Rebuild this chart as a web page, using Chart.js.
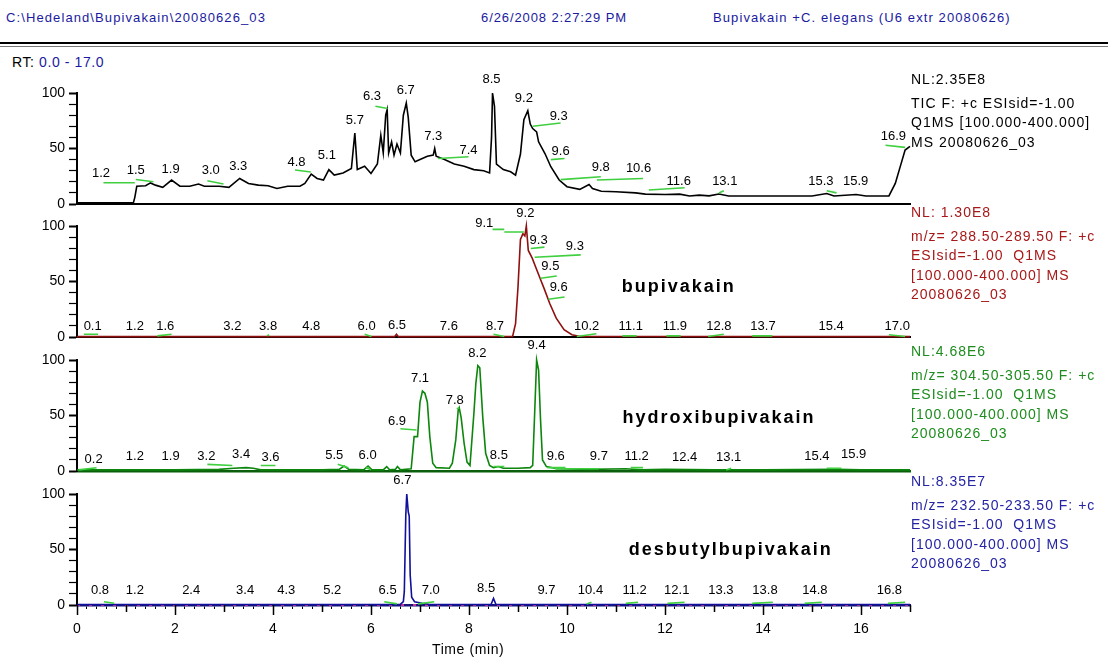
<!DOCTYPE html>
<html>
<head>
<meta charset="utf-8">
<script src="https://cdn.jsdelivr.net/npm/chart.js@4.4.1/dist/chart.umd.min.js"></script>
<style>
	body { margin: 0; background: #fff; }
	#page { position: relative; width: 1108px; height: 657px; overflow: hidden; font-family: "Liberation Sans", Arial, sans-serif; }
	canvas { position: absolute; left: 0; top: 0; }
	.t { position: absolute; white-space: pre; font-size: 14px; letter-spacing: 0.6px; }
	.hdr { position: absolute; white-space: pre; font-size: 13px; color: #1a1aa0; top: 10px; letter-spacing: 1.1px; }
	.note { position: absolute; left: 911px; white-space: pre; font-size: 14px; line-height: 19.5px; letter-spacing: 1px; }
	.note .nl { display: block; margin-bottom: 4px; }
	#rule1 { position: absolute; left: 0; top: 42px; width: 1108px; height: 2px; background: #000; }
	#rule2 { position: absolute; left: 0; top: 46px; width: 1108px; height: 1px; background: #777; }
</style>
</head>
<body>
<div id="page">
	<div class="hdr" style="left:6px;">C:\Hedeland\Bupivakain\20080626_03</div>
	<div class="hdr" style="left:481px; letter-spacing:0.9px;">6/26/2008 2:27:29 PM</div>
	<div class="hdr" style="left:713px;">Bupivakain +C. elegans (U6 extr 20080626)</div>
	<div id="rule1"></div>
	<div id="rule2"></div>
	<div class="t" style="left:12px; top:54px;">RT: <span style="color:#1a1aa0;">0.0 - 17.0</span></div>

	<canvas id="p1" width="1108" height="657"></canvas>
	<canvas id="p2" width="1108" height="657"></canvas>
	<canvas id="p3" width="1108" height="657"></canvas>
	<canvas id="p4" width="1108" height="657"></canvas>

	<div class="note" style="top:70px; color:#000;"><span class="nl">NL:2.35E8</span>TIC F: +c ESIsid=-1.00
Q1MS [100.000-400.000]
MS 20080626_03</div>
	<div class="note" style="top:203px; color:#a81818;"><span class="nl">NL: 1.30E8</span>m/z= 288.50-289.50 F: +c
ESIsid=-1.00  Q1MS
[100.000-400.000] MS
20080626_03</div>
	<div class="note" style="top:342px; color:#1e8c1e;"><span class="nl">NL:4.68E6</span>m/z= 304.50-305.50 F: +c
ESIsid=-1.00  Q1MS
[100.000-400.000] MS
20080626_03</div>
	<div class="note" style="top:472px; color:#2424a4;"><span class="nl">NL:8.35E7</span>m/z= 232.50-233.50 F: +c
ESIsid=-1.00  Q1MS
[100.000-400.000] MS
20080626_03</div>

	<div class="t" style="left:432px; top:641px;">Time (min)</div>
</div>
<script>
const FONT = '"Liberation Sans", Arial, sans-serif';

// TIC trace
const ticTimes = [
	0, 0.5, 1.0, 1.15, 1.18, 1.22, 1.4, 1.5, 1.6, 1.75,
	1.93, 2.1, 2.3, 2.48, 2.6, 2.9, 3.1, 3.32, 3.5, 3.7,
	3.9, 4.08, 4.3, 4.55, 4.65, 4.78, 4.9, 5.03, 5.14, 5.25,
	5.43, 5.6, 5.67, 5.72, 5.87, 6.0, 6.13, 6.2, 6.25, 6.3,
	6.33, 6.36, 6.42, 6.47, 6.53, 6.6, 6.66, 6.72, 6.76, 6.82,
	6.9, 7.0, 7.15, 7.27, 7.3, 7.33, 7.5, 7.7, 7.9, 8.1,
	8.3, 8.42, 8.46, 8.48, 8.52, 8.56, 8.7, 8.85, 8.95, 9.05,
	9.12, 9.2, 9.25, 9.3, 9.38, 9.42, 9.55, 9.67, 9.84, 10.0,
	10.26, 10.45, 10.52, 10.7, 11.0, 11.4, 11.6, 12.0, 12.3, 12.5,
	12.7, 12.9, 13.1, 13.3, 14.0, 15.0, 15.3, 15.45, 15.9, 16.1,
	16.57, 16.7, 16.82, 16.9, 17.0
];
const ticValues = [
	1, 1, 1, 1, 6, 16, 16.5, 19, 17, 15,
	21.5, 16, 16, 18, 16, 16, 15, 23, 18.5, 17,
	16.5, 14, 16, 16, 18.5, 27, 23, 21.5, 31, 26,
	28, 32, 64, 31, 34, 27.5, 36, 62, 46, 80,
	85, 46, 56, 44, 54, 46, 80, 91, 78, 44,
	38, 40, 43, 44, 50, 43, 40, 36, 34, 31,
	30, 28, 60, 100, 88, 36, 31, 29, 26, 45,
	76, 84, 72, 68, 65, 56, 45.5, 33.6, 21.6, 15.6,
	13.2, 17.5, 14, 11.5, 11, 10, 8.9, 8.5, 8.9, 7.2,
	8, 7.3, 9, 7.2, 7.2, 7.2, 9.5, 7.2, 8.5, 7.2,
	7.3, 18.6, 36.6, 48.6, 52
];

// bupivakain trace
const bupTimes = [0, 6.48, 6.52, 6.56, 8.89, 8.95, 9.0, 9.05, 9.1, 9.14, 9.17, 9.21, 9.29, 9.37, 9.45, 9.53, 9.65, 9.78, 9.94, 10.1, 10.27, 17];
const bupValues = [0.3, 0.3, 2.5, 0.3, 0.5, 12, 45, 88, 93, 91, 100, 78, 71, 62, 53, 44, 30, 17, 6.5, 2, 0.5, 0.3];

// hydroxibupivakain trace
const hydTimes = [
	0, 1.0, 2.0, 2.9, 3.2, 3.45, 3.6, 3.75, 4.2, 5.0,
	5.35, 5.45, 5.55, 5.85, 5.94, 6.02, 6.25, 6.32, 6.38, 6.5,
	6.54, 6.6, 6.82, 6.88, 6.95, 7.0, 7.05, 7.1, 7.15, 7.2,
	7.26, 7.33, 7.6, 7.66, 7.73, 7.78, 7.8, 7.84, 7.9, 7.96,
	8.02, 8.1, 8.14, 8.18, 8.22, 8.28, 8.34, 8.42, 8.5, 8.6,
	8.7, 9.0, 9.25, 9.3, 9.34, 9.38, 9.42, 9.46, 9.5, 9.58,
	9.8, 10.5, 11.2, 11.5, 12.0, 13.0, 14.0, 15.5, 16.0, 17.0
];
const hydValues = [
	1, 1, 1, 1.5, 2.5, 3, 2.5, 1, 1, 1,
	1.5, 4.5, 1.5, 1, 4.5, 1, 1, 4, 1, 1.5,
	4, 1, 2, 31, 31, 62, 72, 70, 62, 31,
	7, 3, 2.5, 7, 28, 55, 57, 48, 25, 8,
	5, 52, 79, 95, 93, 49, 16, 5, 3, 4,
	2.5, 2.5, 3, 5, 52, 100, 91, 46, 10, 4,
	2, 1.5, 2, 1, 1.5, 1, 1, 1.5, 1, 1
];

// desbutylbupivakain trace
const desTimes = [0, 6.6, 6.66, 6.68, 6.71, 6.73, 6.76, 6.78, 6.8, 6.83, 6.89, 7.04, 7.2, 8.45, 8.5, 8.55, 17];
const desValues = [0.5, 0.5, 3, 12, 81, 100, 84, 80, 27, 7, 3, 1.5, 0.5, 0.5, 6, 0.5, 0.5];

// integration baselines [t1, v1, t2, v2]
const ticSegments = [
	[0.54, 19.2, 1.18, 19.2], [1.2, 22, 1.56, 20], [2.66, 21, 2.99, 18], [4.45, 30.7, 4.77, 28.9],
	[6.09, 88, 6.34, 86], [7.37, 41, 7.99, 42.5], [9.3, 70, 9.87, 73], [9.67, 40, 9.95, 41],
	[9.87, 22, 10.69, 24.6], [10.61, 21.6, 11.55, 23], [11.67, 12.6, 12.4, 14.7], [13.1, 10, 13.2, 12],
	[15.3, 12, 15.5, 10], [16.5, 53, 16.9, 51]
];
const bupSegments = [
	[0.14, 2.5, 0.43, 2.5], [1.64, 1, 1.93, 2.5], [3.88, 1, 3.92, 2], [5.87, 2.5, 6.01, 0.5], [8.5, 2.5, 8.72, 0.5],
	[8.48, 97, 8.72, 97], [8.72, 94.6, 9.12, 94.6], [9.26, 79.8, 9.54, 81], [9.34, 71.8, 10.28, 74],
	[9.46, 52.9, 9.79, 55], [9.62, 34, 9.95, 36], [10.2, 0.4, 10.6, 3], [11.13, 1, 11.42, 1],
	[12.03, 1, 12.32, 1], [12.88, 0.5, 13.2, 2.5], [13.78, 1, 14.19, 1], [16.57, 2, 16.9, 0.5]
];
const hydSegments = [
	[0.03, 1, 0.4, 3], [2.66, 6, 3.17, 5], [3.75, 5, 4.05, 5], [5.32, 6, 5.54, 3], [5.9, 3, 6.0, 1],
	[6.6, 38, 6.93, 37], [7.75, 56, 7.8, 57], [8.5, 4, 8.72, 4], [9.6, 3, 9.97, 3], [9.75, 2, 10.65, 2],
	[11.3, 3, 11.55, 3], [13.25, 1, 13.35, 2.5], [15.3, 2.5, 15.6, 2.5]
];
const desSegments = [
	[0.55, 3, 0.76, 1.5], [6.27, 3, 6.53, 1], [6.96, 1, 7.29, 3], [10.4, 1, 10.5, 2.5], [11.2, 1.5, 11.45, 2.5],
	[12.05, 1.5, 12.4, 2.5], [13.78, 1.5, 14.2, 2.5], [14.85, 1.5, 15.2, 2.5], [16.55, 1.5, 16.9, 2.5]
];

// peak labels [t, v, text]
const ticLabels = [
	[0.49, 27.6, '1.2'], [1.2, 30.6, '1.5'], [1.91, 31.2, '1.9'], [2.73, 30.6, '3.0'], [3.29, 33.6, '3.3'],
	[4.48, 37.2, '4.8'], [5.1, 44.1, '5.1'], [5.67, 75, '5.7'], [6.02, 96.7, '6.3'], [6.71, 102, '6.7'],
	[7.27, 60.6, '7.3'], [7.99, 48.6, '7.4'], [8.46, 112, '8.5'], [9.12, 95, '9.2'], [9.83, 79.3, '9.3'],
	[9.87, 47.7, '9.6'], [10.69, 33, '9.8'], [11.46, 32, '10.6'], [12.28, 20, '11.6'], [13.22, 20, '13.1'],
	[15.18, 20, '15.3'], [15.89, 20, '15.9'], [16.66, 60.6, '16.9']
];
const bupLabels = [
	[0.32, 9.3, '0.1'], [1.18, 9.3, '1.2'], [1.8, 9.3, '1.6'], [3.17, 9.3, '3.2'], [3.9, 9.3, '3.8'],
	[4.78, 9.3, '4.8'], [5.91, 9.3, '6.0'], [6.53, 10.5, '6.5'], [7.59, 9.3, '7.6'], [8.53, 9.3, '8.7'],
	[8.31, 102.4, '9.1'], [9.15, 111, '9.2'], [9.42, 87.4, '9.3'], [10.16, 81.4, '9.3'], [9.66, 63.3, '9.5'],
	[9.83, 44.7, '9.6'], [10.4, 9.9, '10.2'], [11.3, 9.3, '11.1'], [12.2, 9.3, '11.9'], [13.1, 9.3, '12.8'],
	[14.0, 9.3, '13.7'], [15.39, 9.3, '15.4'], [16.74, 9.3, '17.0']
];
const hydLabels = [
	[0.34, 10.5, '0.2'], [1.18, 12.9, '1.2'], [1.91, 12.9, '1.9'], [2.64, 12.9, '3.2'], [3.35, 15.3, '3.4'],
	[3.95, 12, '3.6'], [5.25, 14, '5.5'], [5.93, 14, '6.0'], [6.53, 44.4, '6.9'], [7.0, 83.5, '7.1'],
	[7.71, 64, '7.8'], [8.17, 106, '8.2'], [8.61, 14, '8.5'], [9.38, 113.5, '9.4'], [9.77, 13.5, '9.6'],
	[10.65, 13.5, '9.7'], [11.42, 13.5, '11.2'], [12.4, 12, '12.4'], [13.3, 12, '13.1'], [15.1, 13.5, '15.4'],
	[15.85, 15, '15.9']
];
const desLabels = [
	[0.47, 13.5, '0.8'], [1.18, 13.5, '1.2'], [2.33, 13.5, '2.4'], [3.43, 13.5, '3.4'], [4.27, 13.5, '4.3'],
	[5.21, 13.5, '5.2'], [6.34, 13.5, '6.5'], [6.64, 112.6, '6.7'], [7.22, 13.5, '7.0'], [8.35, 15, '8.5'],
	[9.58, 13.5, '9.7'], [10.48, 13.5, '10.4'], [11.38, 13.5, '11.2'], [12.24, 13.5, '12.1'], [13.14, 13.5, '13.3'],
	[14.04, 13.5, '13.8'], [15.06, 13.5, '14.8'], [16.58, 13.5, '16.8']
];

// compound names [t, v, text]
const bupName = [12.28, 45, 'bupivakain'];
const hydName = [13.1, 47.7, 'hydroxibupivakain'];
const desName = [13.34, 49.5, 'desbutylbupivakain'];

function toPoints(times, values) {
	return times.map((t, i) => ({ x: t, y: values[i] }));
}

function segmentPoints(segs) {
	const out = [];
	segs.forEach((s) => {
		out.push({ x: s[0], y: s[1] }, { x: s[2], y: s[3] }, { x: s[2], y: null });
	});
	return out;
}

function labelPlugin(labels, name) {
	return {
		id: 'peakLabels',
		afterDatasetsDraw(chart) {
			const ctx = chart.ctx;
			const xs = chart.scales.x;
			const ys = chart.scales.y;
			ctx.save();
			ctx.fillStyle = '#000';
			ctx.textAlign = 'center';
			ctx.textBaseline = 'middle';
			ctx.font = '13px ' + FONT;
			labels.forEach(([t, v, text]) => {
				ctx.fillText(text, xs.getPixelForValue(t), ys.getPixelForValue(v));
			});
			if (name) {
				ctx.font = 'bold 18px ' + FONT;
				ctx.letterSpacing = '2px';
				ctx.fillText(name[2], xs.getPixelForValue(name[0]), ys.getPixelForValue(name[1]));
			}
			ctx.restore();
		}
	};
}

const bigTicks = {
	id: 'bigTicks',
	afterDraw(chart) {
		const ctx = chart.ctx;
		const xs = chart.scales.x;
		const y0 = chart.chartArea.bottom;
		ctx.save();
		ctx.strokeStyle = '#000';
		ctx.lineWidth = 1.5;
		ctx.beginPath();
		for (let t = 0; t <= 17; t += 1) {
			const px = Math.round(xs.getPixelForValue(t)) + 0.5;
			ctx.moveTo(px, y0);
			ctx.lineTo(px, y0 + (t % 2 === 0 ? 10 : 7));
		}
		ctx.stroke();
		ctx.restore();
	}
};

const panels = [
	{ id: 'p1', times: ticTimes, values: ticValues, color: '#000000', axis: '#000', segs: ticSegments, labels: ticLabels, name: null, y0: 204, y100: 93 },
	{ id: 'p2', times: bupTimes, values: bupValues, color: '#8e1010', axis: '#000', segs: bupSegments, labels: bupLabels, name: bupName, y0: 337, y100: 226 },
	{ id: 'p3', times: hydTimes, values: hydValues, color: '#0c860c', axis: '#0b5e0b', segs: hydSegments, labels: hydLabels, name: hydName, y0: 471, y100: 360 },
	{ id: 'p4', times: desTimes, values: desValues, color: '#10109c', axis: '#14147a', segs: desSegments, labels: desLabels, name: desName, y0: 605, y100: 494 }
];

panels.forEach((p, idx) => {
	const last = idx === panels.length - 1;
	const datasets = [
		{
			data: segmentPoints(p.segs),
			borderColor: '#3fcf3f',
			borderWidth: 1.6,
			spanGaps: false,
			order: 0,
			clip: false
		},
		{
			data: toPoints(p.times, p.values),
			borderColor: p.color,
			borderWidth: 1.6,
			order: 1,
			clip: false
		}
	];
	if (last) {
		datasets.push({
			data: toPoints([0, 17], [0, 0]),
			borderColor: '#cc3399',
			borderWidth: 2,
			borderDash: [3, 9],
			order: 2,
			clip: false
		});
	}

	const xScale = {
		type: 'linear',
		min: 0,
		max: 17,
		border: { color: p.axis, width: idx >= 2 ? 2.5 : 2 }
	};
	if (last) {
		xScale.afterFit = (s) => { s.height = 35; };
		xScale.ticks = {
			stepSize: 0.2,
			autoSkip: false,
			maxRotation: 0,
			padding: 12,
			color: '#000',
			font: { size: 14, family: FONT },
			callback: (v) => (Math.abs(v / 2 - Math.round(v / 2)) < 1e-6 ? String(Math.round(v)) : '')
		};
		xScale.grid = { drawOnChartArea: false, tickLength: 4, tickColor: '#000', tickWidth: 1 };
	} else {
		xScale.afterFit = (s) => { s.height = 0; };
		xScale.ticks = { display: false };
		xScale.grid = { display: false };
	}

	new Chart(document.getElementById(p.id), {
		type: 'line',
		data: { datasets },
		options: {
			responsive: false,
			animation: false,
			events: [],
			layout: {
				padding: { left: 0, right: 198, top: p.y100, bottom: last ? 657 - p.y0 - 35 : 657 - p.y0 }
			},
			elements: { point: { radius: 0 }, line: { tension: 0 } },
			plugins: { legend: { display: false }, tooltip: { enabled: false } },
			scales: {
				x: xScale,
				y: {
					min: 0,
					max: 100,
					afterFit: (s) => { s.width = 77; },
					ticks: {
						stepSize: 10,
						autoSkip: false,
						padding: 4,
						color: '#000',
						font: { size: 14, family: FONT },
						callback: (v) => (v % 50 === 0 ? String(v) : '')
					},
					grid: {
						drawOnChartArea: false,
						tickLength: 8,
						tickColor: '#000',
						tickWidth: (c) => (c.tick && c.tick.value % 50 === 0 ? 2 : 1.2)
					},
					border: { color: '#000', width: 2 }
				}
			}
		},
		plugins: last ? [labelPlugin(p.labels, p.name), bigTicks] : [labelPlugin(p.labels, p.name)]
	});
});
</script>
</body>
</html>
